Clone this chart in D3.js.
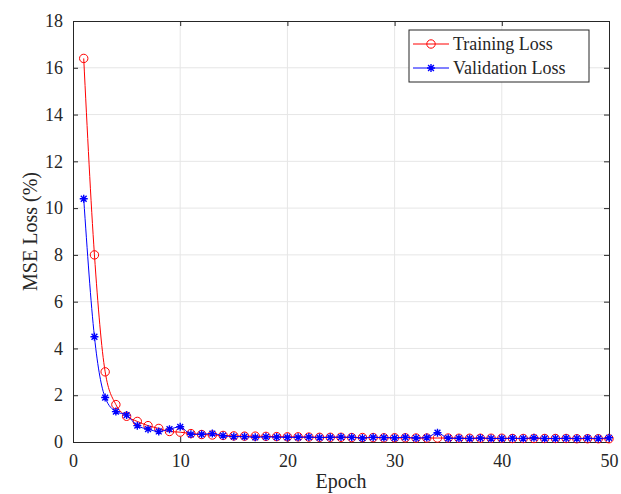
<!DOCTYPE html>
<html>
<head>
<meta charset="utf-8">
<script src="https://cdn.jsdelivr.net/npm/d3@7"></script>
<style>
  body { margin: 0; background: #fff; }
  svg { font-family: "Liberation Serif", "DejaVu Serif", serif; }
</style>
</head>
<body>
<svg id="chart" width="621" height="494"></svg>
<script>
//data
var EPOCHS = d3.range(1, 51);
var TRAIN_LOSS = [16.4, 8.0, 3.0, 1.6, 1.1, 0.88, 0.7, 0.58, 0.45, 0.42,
    0.36, 0.32, 0.3, 0.28, 0.26, 0.25, 0.25, 0.24, 0.23, 0.22,
    0.22, 0.21, 0.2, 0.2, 0.2, 0.19, 0.19, 0.19, 0.18, 0.18,
    0.18, 0.17, 0.17, 0.17, 0.17, 0.16, 0.16, 0.16, 0.16, 0.16,
    0.15, 0.15, 0.15, 0.15, 0.15, 0.15, 0.14, 0.14, 0.14, 0.14];
var VAL_LOSS = [10.4, 4.5, 1.9, 1.3, 1.15, 0.7, 0.55, 0.45, 0.55, 0.65,
    0.33, 0.33, 0.36, 0.27, 0.23, 0.23, 0.2, 0.22, 0.21, 0.2,
    0.2, 0.21, 0.19, 0.2, 0.21, 0.2, 0.17, 0.2, 0.19, 0.18,
    0.2, 0.17, 0.19, 0.4, 0.16, 0.16, 0.15, 0.17, 0.15, 0.15,
    0.16, 0.15, 0.18, 0.15, 0.15, 0.16, 0.15, 0.16, 0.15, 0.18];
var X_TICKS = [0, 10, 20, 30, 40, 50];
var Y_TICKS = [0, 2, 4, 6, 8, 10, 12, 14, 16, 18];
var SERIES = [
    {name: "Training Loss", values: TRAIN_LOSS, color: "#ff0000", marker: "circle"},
    {name: "Validation Loss", values: VAL_LOSS, color: "#0000ff", marker: "star"}
];

var MARGIN = {left: 73, top: 21, right: 12, bottom: 52};
var W = 621 - MARGIN.left - MARGIN.right;
var H = 494 - MARGIN.top - MARGIN.bottom;
var AXIS_COLOR = "#262626";

var svg = d3.select("#chart");
var chart = svg.append("g").attr("transform", `translate(${MARGIN.left}, ${MARGIN.top})`);

var xScale = d3.scaleLinear().domain([0, 50]).range([0, W]);
var yScale = d3.scaleLinear().domain([0, 18]).range([H, 0]);

// grid
chart.append("g").selectAll("line").data(X_TICKS.slice(1, -1)).join("line")
    .attr("x1", d => xScale(d)).attr("x2", d => xScale(d))
    .attr("y1", 0).attr("y2", H)
    .attr("stroke", "#e6e6e6").attr("stroke-width", 1);
chart.append("g").selectAll("line").data(Y_TICKS.slice(1, -1)).join("line")
    .attr("y1", d => yScale(d)).attr("y2", d => yScale(d))
    .attr("x1", 0).attr("x2", W)
    .attr("stroke", "#e6e6e6").attr("stroke-width", 1);

// axes, ticks pointing inward on all four sides
function styleAxis(g) {
    g.select(".domain").attr("stroke", AXIS_COLOR);
    g.selectAll(".tick line").attr("stroke", AXIS_COLOR);
    g.selectAll(".tick text").attr("fill", AXIS_COLOR).attr("font-size", 18)
        .attr("font-family", "Liberation Serif, DejaVu Serif, serif");
}
chart.append("g").attr("transform", `translate(0, ${H})`)
    .call(d3.axisBottom(xScale).tickValues(X_TICKS).tickSizeInner(-5).tickSizeOuter(0).tickPadding(12))
    .call(styleAxis);
chart.append("g")
    .call(d3.axisLeft(yScale).tickValues(Y_TICKS).tickSizeInner(-5).tickSizeOuter(0).tickPadding(10))
    .call(styleAxis);
chart.append("g")
    .call(d3.axisTop(xScale).tickValues(X_TICKS).tickSizeInner(-5).tickSizeOuter(0).tickFormat(""))
    .call(styleAxis);
chart.append("g").attr("transform", `translate(${W}, 0)`)
    .call(d3.axisRight(yScale).tickValues(Y_TICKS).tickSizeInner(-5).tickSizeOuter(0).tickFormat(""))
    .call(styleAxis);

// axis labels
svg.append("text")
    .attr("x", MARGIN.left + W / 2).attr("y", 488)
    .attr("text-anchor", "middle").attr("font-size", 20).attr("fill", AXIS_COLOR)
    .text("Epoch");
svg.append("text")
    .attr("transform", `translate(37, ${MARGIN.top + H / 2}) rotate(-90)`)
    .attr("text-anchor", "middle").attr("font-size", 20).attr("fill", AXIS_COLOR)
    .text("MSE Loss (%)");

// lines and markers
var line = d3.line()
    .x((d, i) => xScale(EPOCHS[i]))
    .y(d => yScale(d))
    .curve(d3.curveMonotoneX);

var starPath = "M-4,0H4M0,-4V4M-2.9,-2.9L2.9,2.9M-2.9,2.9L2.9,-2.9";

function drawMarker(g, marker, color) {
    if (marker === "circle") {
        g.append("circle").attr("r", 4.2).attr("fill", "none")
            .attr("stroke", color).attr("stroke-width", 1);
    } else {
        g.append("path").attr("d", starPath).attr("fill", "none")
            .attr("stroke", color).attr("stroke-width", 1.4);
    }
}

SERIES.forEach(s => {
    chart.append("path")
        .datum(s.values)
        .attr("fill", "none")
        .attr("stroke", s.color)
        .attr("stroke-width", 1)
        .attr("d", line);
    chart.append("g").selectAll("g").data(s.values).join("g")
        .attr("transform", (d, i) => `translate(${xScale(EPOCHS[i])}, ${yScale(d)})`)
        .each(function () { drawMarker(d3.select(this), s.marker, s.color); });
});

// legend
var legend = svg.append("g").attr("transform", "translate(409, 30)");
legend.append("rect").attr("width", 180).attr("height", 52)
    .attr("fill", "#fff").attr("stroke", AXIS_COLOR).attr("stroke-width", 1);
SERIES.forEach((s, i) => {
    var row = legend.append("g").attr("transform", `translate(0, ${14 + i * 24})`);
    row.append("line").attr("x1", 4).attr("x2", 40).attr("stroke", s.color).attr("stroke-width", 1);
    drawMarker(row.append("g").attr("transform", "translate(22, 0)"), s.marker, s.color);
    row.append("text").attr("x", 44).attr("y", 6).attr("font-size", 18).attr("fill", AXIS_COLOR)
        .text(s.name);
});
</script>
</body>
</html>
